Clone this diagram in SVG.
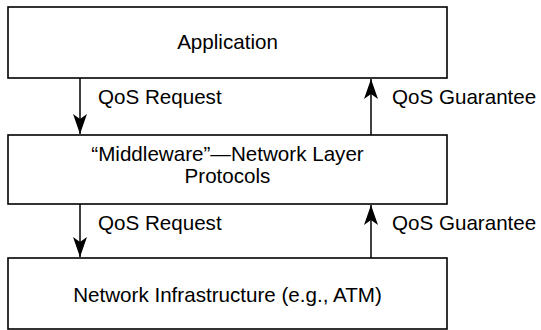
<svg xmlns="http://www.w3.org/2000/svg" width="541" height="330" viewBox="0 0 541 330">
  <style>
    .box { fill: #ffffff; stroke: #000000; stroke-width: 1.6; }
    .label { font-family: "Liberation Sans", Arial, sans-serif; font-size: 20.6px; fill: #000000; }
    .mid { text-anchor: middle; }
    .link { stroke: #000000; stroke-width: 1.5; fill: none; }
  </style>
  <defs>
    <marker id="head" viewBox="0 0 20 14" refX="20" refY="7" markerWidth="20" markerHeight="14" markerUnits="userSpaceOnUse" orient="auto">
      <path d="M0,0 L20,7 L0,14 L5,7 Z" fill="#000000"/>
    </marker>
  </defs>
  <rect width="541" height="330" fill="#ffffff"/>

  <g id="application">
    <rect class="box" x="8" y="7" width="439" height="71"/>
    <text class="label mid" x="227.5" y="49">Application</text>
  </g>

  <g id="middleware">
    <rect class="box" x="8" y="135" width="439" height="69"/>
    <text class="label mid" x="227.5" y="161">“Middleware”—Network Layer</text>
    <text class="label mid" x="227.5" y="183">Protocols</text>
  </g>

  <g id="infrastructure">
    <rect class="box" x="8" y="258" width="439" height="71"/>
    <text class="label mid" x="227.5" y="302">Network Infrastructure (e.g., ATM)</text>
  </g>

  <g id="connectors">
    <line class="link" x1="80" y1="78" x2="80" y2="134" marker-end="url(#head)"/>
    <line class="link" x1="371" y1="135" x2="371" y2="79" marker-end="url(#head)"/>
    <line class="link" x1="80" y1="204" x2="80" y2="257" marker-end="url(#head)"/>
    <line class="link" x1="371" y1="258" x2="371" y2="205" marker-end="url(#head)"/>
    <text class="label" x="98" y="104">QoS Request</text>
    <text class="label" x="392" y="104">QoS Guarantee</text>
    <text class="label" x="98" y="230">QoS Request</text>
    <text class="label" x="392" y="230">QoS Guarantee</text>
  </g>
</svg>
